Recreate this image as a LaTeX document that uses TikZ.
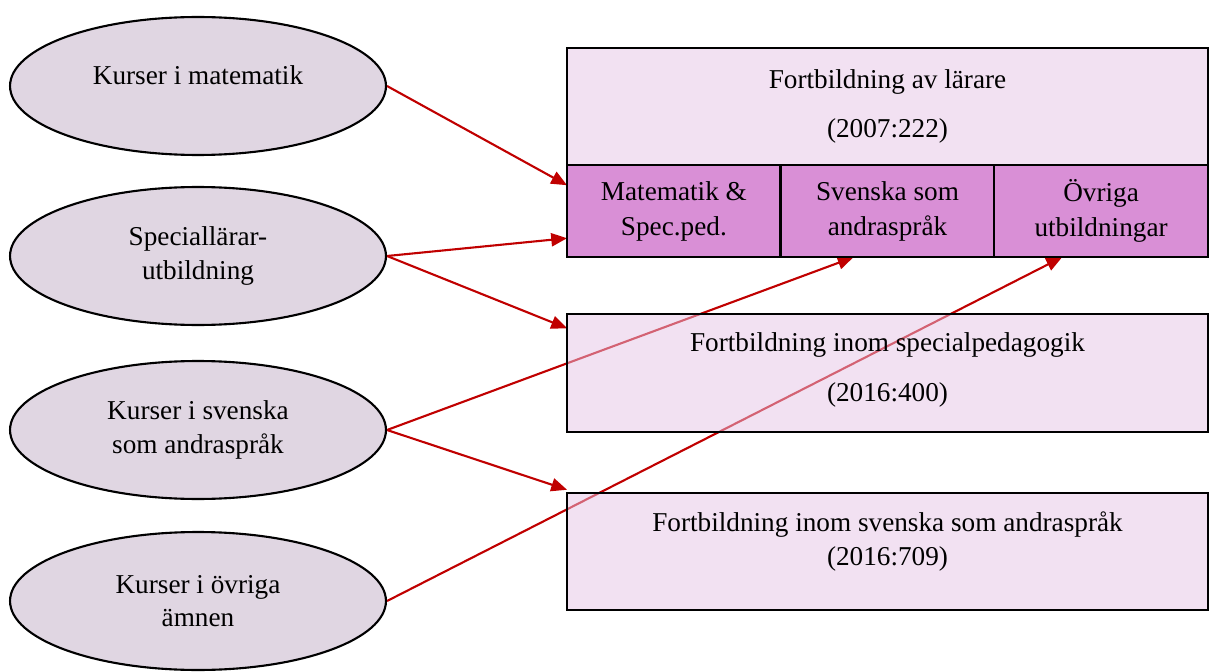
\documentclass[tikz,border=0pt]{standalone}
\usepackage{fontspec}
\setmainfont{Liberation Serif}
\usetikzlibrary{shapes.geometric, arrows.meta, positioning}
\pgfdeclarelayer{background}
\pgfsetlayers{background,main}
\definecolor{coursefill}{RGB}{224,214,226}
\definecolor{boxfill}{RGB}{230,196,230}
\definecolor{cellfill}{RGB}{217,143,214}
\definecolor{arrowred}{RGB}{192,0,0}

\begin{document}
\begin{tikzpicture}[x=0.02cm, y=-0.02cm,
		% Define styles
		course/.style={
			ellipse,
			draw,
			line width=1.2pt,
			fill=coursefill,
			minimum width=7.52cm,
			minimum height=2.76cm,
			align=center,
			font=\fontsize{15.5}{19}\selectfont
		},
		regbox/.style={
			rectangle,
			draw,
			line width=1.35pt,
			fill=boxfill,
			fill opacity=0.5,
			draw opacity=1,
			text opacity=1,
			minimum width=12.82cm,
			minimum height=2.35cm,
			outer sep=0pt,
			align=center,
			font=\fontsize{15.5}{19}\selectfont
		},
		cell/.style={
			rectangle,
			draw,
			line width=1.35pt,
			fill=cellfill,
			minimum width=4.273cm,
			minimum height=1.84cm,
			outer sep=0pt,
			align=center,
			font=\fontsize{15.5}{20}\selectfont
		},
		% Define arrow style
		arrow/.style={-{Triangle[length=9pt,width=7.5pt]}, line width=1.2pt, arrowred}
		]
		
		\useasboundingbox (0,0) rectangle (1216,672);
		
		% ----- Courses (ellipses) -----
		\node[course] (kmat) at (198,86) {Kurser i matematik\\[-0.23cm]};
		\node[course] (spec) at (198,256) {Speciallärar-\\utbildning};
		\node[course] (ksva) at (198,430) {Kurser i svenska\\som andraspråk};
		\node[course] (kovr) at (198,601) {Kurser i övriga\\ämnen};
		
		% ----- Regulations (boxes) -----
		\node[regbox] (fal) at (887.5,106.5) {Fortbildning av lärare\\[0.33cm](2007:222)};
		\node[cell, anchor=north west] (mat) at (fal.south west) {Matematik \&\\Spec.ped.};
		\node[cell, right=0pt of mat] (sva) {Svenska som\\andraspråk};
		\node[cell, right=0pt of sva] (ovr) {Övriga\\utbildningar};
		
		\node[regbox] (fsp) at (887.5,373) {Fortbildning inom specialpedagogik\\[0.33cm](2016:400)\\[-0.43cm]};
		\node[regbox] (fsva) at (887.5,551.5) {Fortbildning inom svenska som andraspråk\\(2016:709)\\[-0.15cm]};
		
		% ----- Arrows to connect the nodes -----
		\begin{pgfonlayer}{background}
			\draw[arrow] (kmat.east) -- ([yshift=-0.4cm]mat.north west);
			\draw[arrow] (spec.east) -- ([yshift=0.38cm]mat.south west);
			\draw[arrow] (spec.east) -- ([yshift=-0.28cm]fsp.north west);
			\draw[arrow] (ksva.east) -- ([xshift=-0.68cm]sva.south);
			\draw[arrow] (ksva.east) -- ([yshift=0.06cm]fsva.north west);
			\draw[arrow] (kovr.east) -- ([xshift=-0.78cm]ovr.south);
		\end{pgfonlayer}
		
	\end{tikzpicture}
\end{document}
